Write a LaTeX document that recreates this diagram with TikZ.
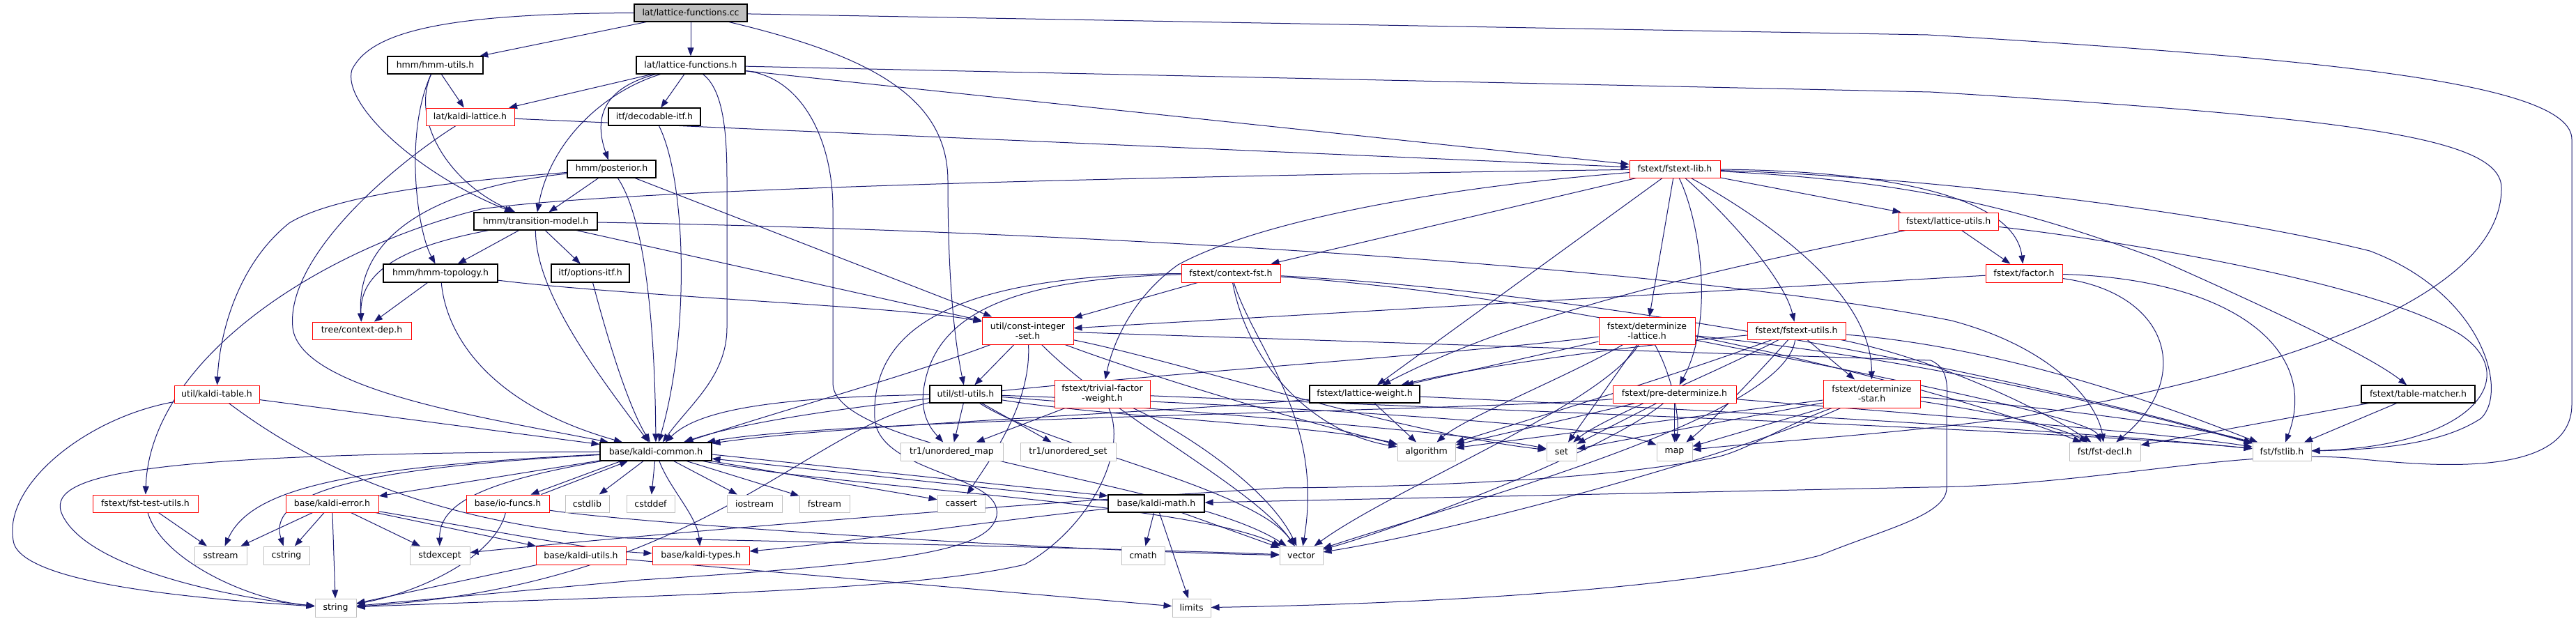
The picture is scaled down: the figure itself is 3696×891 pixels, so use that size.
\documentclass[tikz,border=0pt]{standalone}
\usepackage{fontspec}
\setmainfont{DejaVu Sans}
\usetikzlibrary{arrows.meta,backgrounds}
\definecolor{edgec}{HTML}{191970}
\definecolor{sysgray}{HTML}{BFBFBF}
\begin{document}
\begin{tikzpicture}[x=1pt,y=-1pt,
  nd/.style={draw=black, fill=white, line width=1.1pt, inner sep=0pt, align=center, font=\fontsize{12.5}{14}\selectfont, text=black},
  nr/.style={nd, draw=red, line width=1pt},
  ng/.style={nd, draw=sysgray, line width=1pt},
  e/.style={draw=edgec, line width=1pt, -{Triangle[length=12pt,width=9pt]}},
]
\useasboundingbox (0,0) rectangle (3696,891);
% ---------------- nodes ----------------
\node[nd,fill=sysgray,minimum width=162pt,minimum height=25pt] (lfc) at (991,18.5) {lat/lattice-functions.cc};
\node[nd,minimum width=137pt,minimum height=25pt] (hmmu) at (624.5,93.5) {hmm/hmm-utils.h};
\node[nd,minimum width=156pt,minimum height=25pt] (lfh) at (991,93.5) {lat/lattice-functions.h};
\node[nr,minimum width=127pt,minimum height=25pt] (klat) at (674.5,167.5) {lat/kaldi-lattice.h};
\node[nd,minimum width=132pt,minimum height=25pt] (dec) at (939,167.5) {itf/decodable-itf.h};
\node[nd,minimum width=127pt,minimum height=25pt] (post) at (877.5,242.5) {hmm/posterior.h};
\node[nr,minimum width=130pt,minimum height=25pt] (fstl) at (2403,242.5) {fstext/fstext-lib.h};
\node[nd,minimum width=177pt,minimum height=25pt] (tm) at (768.5,317.5) {hmm/transition-model.h};
\node[nr,minimum width=143pt,minimum height=25pt] (lu) at (2795.5,317.5) {fstext/lattice-utils.h};
\node[nd,minimum width=164pt,minimum height=26pt] (topo) at (632,392) {hmm/hmm-topology.h};
\node[nd,minimum width=112pt,minimum height=26pt] (opt) at (847,392) {itf/options-itf.h};
\node[nr,minimum width=142pt,minimum height=26pt] (cfst) at (1766,392) {fstext/context-fst.h};
\node[nr,minimum width=110pt,minimum height=26pt] (fac) at (2904,392) {fstext/factor.h};
\node[nr,minimum width=131pt,minimum height=39pt] (cis) at (1474.5,474.5) {util/const-integer\\-set.h};
\node[nr,minimum width=138pt,minimum height=39pt] (dl) at (2363,474.5) {fstext/determinize\\-lattice.h};
\node[nr,minimum width=142pt,minimum height=25pt] (cdep) at (519,474.5) {tree/context-dep.h};
\node[nr,minimum width=141pt,minimum height=25pt] (fu) at (2577.5,474.5) {fstext/fstext-utils.h};
\node[nr,minimum width=122pt,minimum height=25pt] (ktab) at (311,565.5) {util/kaldi-table.h};
\node[nd,minimum width=103pt,minimum height=25pt] (stl) at (1385.5,565.5) {util/stl-utils.h};
\node[nr,minimum width=137pt,minimum height=40pt] (tfw) at (1581.5,565) {fstext/trivial-factor\\-weight.h};
\node[nd,minimum width=158pt,minimum height=25pt] (lw) at (1958,565.5) {fstext/lattice-weight.h};
\node[nr,minimum width=177pt,minimum height=25pt] (pd) at (2402.5,565.5) {fstext/pre-determinize.h};
\node[nr,minimum width=139pt,minimum height=40pt] (ds) at (2685.5,565) {fstext/determinize\\-star.h};
\node[nd,minimum width=163pt,minimum height=25pt] (tmat) at (3469.5,565.5) {fstext/table-matcher.h};
\node[nd,minimum width=160pt,minimum height=26pt] (kc) at (941,648) {base/kaldi-common.h};
\node[ng,minimum width=147pt,minimum height=26pt] (umap) at (1365.5,648) {tr1/unordered\_map};
\node[ng,minimum width=137pt,minimum height=26pt] (uset) at (1532.5,648) {tr1/unordered\_set};
\node[ng,minimum width=83pt,minimum height=26pt] (alg) at (2046.5,648) {algorithm};
\node[ng,minimum width=43pt,minimum height=26pt] (set) at (2240.5,648) {set};
\node[ng,minimum width=51pt,minimum height=26pt] (map) at (2402.5,648) {map};
\node[ng,minimum width=102pt,minimum height=26pt] (fdecl) at (3020,648) {fst/fst-decl.h};
\node[ng,minimum width=84pt,minimum height=26pt] (fstlib) at (3274,648) {fst/fstlib.h};
\node[nr,minimum width=151pt,minimum height=25pt] (ftu) at (208.5,722.5) {fstext/fst-test-utils.h};
\node[nr,minimum width=133pt,minimum height=25pt] (kerr) at (476.5,722.5) {base/kaldi-error.h};
\node[nr,minimum width=119pt,minimum height=25pt] (iof) at (728.5,722.5) {base/io-funcs.h};
\node[ng,minimum width=63pt,minimum height=25pt] (cstdlib) at (842.5,722.5) {cstdlib};
\node[ng,minimum width=69pt,minimum height=25pt] (cstddef) at (933.5,722.5) {cstddef};
\node[ng,minimum width=79pt,minimum height=25pt] (iostream) at (1082.5,722.5) {iostream};
\node[ng,minimum width=72pt,minimum height=25pt] (fstream) at (1183,722.5) {fstream};
\node[ng,minimum width=68pt,minimum height=25pt] (cassert) at (1379,722.5) {cassert};
\node[nd,minimum width=138pt,minimum height=25pt] (kmath) at (1659,722.5) {base/kaldi-math.h};
\node[ng,minimum width=75pt,minimum height=26pt] (sstream) at (316.5,797) {sstream};
\node[ng,minimum width=66pt,minimum height=26pt] (cstring) at (411,797) {cstring};
\node[ng,minimum width=86pt,minimum height=26pt] (stdexcept) at (631,797) {stdexcept};
\node[nr,minimum width=129pt,minimum height=26pt] (kutil) at (833.5,797) {base/kaldi-utils.h};
\node[nr,minimum width=139pt,minimum height=26pt] (ktypes) at (1005.5,797) {base/kaldi-types.h};
\node[ng,minimum width=62pt,minimum height=26pt] (cmath) at (1640,797) {cmath};
\node[ng,minimum width=62pt,minimum height=26pt] (vector) at (1867,797) {vector};
\node[ng,minimum width=59pt,minimum height=26pt] (string) at (481.5,872) {string};
\node[ng,minimum width=55pt,minimum height=26pt] (limits) at (1709.5,872) {limits};
% ---------------- edges ----------------
\begin{scope}[on background layer]
% lat/lattice-functions.cc
\draw[e] (lfc) -- (hmmu);
\draw[e] (lfc) -- (lfh);
\draw[e] (lfc) .. controls (620,19) and (530,50) .. (505,100) .. controls (490,150) and (600,250) .. (tm);
\draw[e] (lfc) .. controls (1250,80) and (1360,140) .. (1360,260) .. controls (1360,420) and (1372,500) .. (stl);
\draw[e] (lfc) -- (2766,50) .. controls (3350,85) and (3690,120) .. (3690,200) -- (3690,580) .. controls (3690,690) and (3480,668) .. (3370,657) .. controls (3200,645) and (3000,697) .. (2766,699) -- (kmath);
% hmm-utils
\draw[e] (hmmu) -- (klat);
\draw[e] (hmmu) .. controls (590,170) and (640,260) .. (tm);
\draw[e] (hmmu) .. controls (580,190) and (598,330) .. (topo);
% lattice-functions.h
\draw[e] (lfh) -- (klat);
\draw[e] (lfh) -- (dec);
\draw[e] (lfh) .. controls (870,125) and (850,165) .. (post);
\draw[e] (lfh) .. controls (870,130) and (790,200) .. (tm);
\draw[e] (lfh) .. controls (1040,130) and (1043,200) .. (1043,260) -- (1043,470) .. controls (1043,540) and (990,580) .. (kc);
\draw[e] (lfh) -- (fstl);
\draw[e] (lfh) -- (2770,132) .. controls (3400,170) and (3589,200) .. (3589,270) .. controls (3589,420) and (3300,530) .. (2900,598) .. controls (2700,625) and (2550,632) .. (map);
\draw[e] (lfh) .. controls (1150,110) and (1195,200) .. (1195,300) -- (1195,550) .. controls (1195,650) and (1700,690) .. (vector);
% kaldi-lattice
\draw[e] (klat) -- (fstl);
\draw[e] (klat) .. controls (560,240) and (410,370) .. (420,470) .. controls (430,560) and (700,600) .. (kc);
% decodable
\draw[e] (dec) .. controls (985,260) and (990,480) .. (kc);
% posterior
\draw[e] (post) -- (tm);
\draw[e] (post) .. controls (650,260) and (480,280) .. (415,320) .. controls (340,380) and (315,480) .. (ktab);
\draw[e] (post) .. controls (660,265) and (510,320) .. (cdep);
\draw[e] (post) .. controls (930,320) and (940,500) .. (kc);
\draw[e] (post) -- (cis);
% transition-model
\draw[e] (tm) -- (topo);
\draw[e] (tm) -- (opt);
\draw[e] (tm) .. controls (600,350) and (515,380) .. (cdep);
\draw[e] (tm) .. controls (768,420) and (860,540) .. (kc);
\draw[e] (tm) -- (cis);
\draw[e] (tm) .. controls (1500,330) and (2400,380) .. (2800,460) .. controls (2950,500) and (3010,580) .. (fdecl);
% hmm-topology
\draw[e] (topo) -- (cdep);
\draw[e] (topo) .. controls (640,480) and (700,580) .. (kc);
\draw[e] (topo) .. controls (900,425) and (1300,440) .. (cis);
% options-itf
\draw[e] (opt) .. controls (870,480) and (900,580) .. (kc);
% kaldi-table
\draw[e] (ktab) -- (kc);
\draw[e] (ktab) .. controls (120,600) and (0,700) .. (20,780) .. controls (40,840) and (300,860) .. (string);
\draw[e] (ktab) .. controls (450,670) and (620,750) .. (900,772) .. controls (1300,780) and (1700,790) .. (vector);
% fstext-lib
\draw[e] (fstl) .. controls (1700,252) and (900,270) .. (690,300) .. controls (450,360) and (215,520) .. (ftu);
\draw[e] (fstl) -- (cfst);
\draw[e] (fstl) .. controls (2050,270) and (1800,320) .. (1690,380) .. controls (1620,430) and (1595,500) .. (tfw);
\draw[e] (fstl) -- (lw);
\draw[e] (fstl) -- (dl);
\draw[e] (fstl) .. controls (2440,320) and (2460,460) .. (pd);
\draw[e] (fstl) .. controls (2480,310) and (2560,400) .. (fu);
\draw[e] (fstl) .. controls (2560,330) and (2685,430) .. (ds);
\draw[e] (fstl) -- (lu);
\draw[e] (fstl) .. controls (2700,245) and (2890,280) .. (fac);
\draw[e] (fstl) .. controls (2750,260) and (2900,300) .. (3092,370) .. controls (3250,440) and (3400,510) .. (tmat);
\draw[e] (fstl) .. controls (2800,255) and (3200,310) .. (3400,360) .. controls (3560,420) and (3600,560) .. (3560,600) .. controls (3500,640) and (3400,645) .. (fstlib);
% lattice-utils
\draw[e] (lu) -- (fac);
\draw[e] (lu) .. controls (2500,380) and (2200,440) .. (lw);
\draw[e] (lu) .. controls (3000,340) and (3400,400) .. (3530,480) .. controls (3620,540) and (3550,640) .. (fstlib);
% factor
\draw[e] (fac) -- (cis);
\draw[e] (fac) .. controls (3110,420) and (3150,540) .. (fdecl);
\draw[e] (fac) .. controls (3200,400) and (3330,500) .. (fstlib);
% table-matcher
\draw[e] (tmat) -- (fdecl);
\draw[e] (tmat) -- (fstlib);
% context-fst
\draw[e] (cfst) -- (cis);
\draw[e] (cfst) .. controls (1450,400) and (1340,450) .. (1325,560) .. controls (1320,600) and (1340,620) .. (umap);
\draw[e] (cfst) .. controls (1350,395) and (1250,480) .. (1255,600) .. controls (1260,680) and (1440,680) .. (1430,740) .. controls (1420,790) and (1300,808) .. (920,832) -- (string);
\draw[e] (cfst) .. controls (1790,520) and (1880,620) .. (alg);
\draw[e] (cfst) .. controls (1800,500) and (1900,600) .. (vector);
\draw[e] (cfst) .. controls (2300,420) and (2900,540) .. (fstlib);
\draw[e] (cfst) .. controls (2300,430) and (2800,560) .. (fdecl);
% const-integer-set
\draw[e] (cis) -- (stl);
\draw[e] (cis) .. controls (1300,540) and (1150,580) .. (kc);
\draw[e] (cis) .. controls (1480,580) and (1420,660) .. (cassert);
\draw[e] (cis) .. controls (1650,540) and (1850,600) .. (alg);
\draw[e] (cis) .. controls (1700,520) and (2000,620) .. (set);
\draw[e] (cis) .. controls (1600,600) and (1800,700) .. (vector);
\draw[e] (cis) -- (2770,517) .. controls (2800,530) and (2793,560) .. (2793,600) -- (2793,700) .. controls (2793,740) and (2700,760) .. (2611,797) .. controls (2400,850) and (2000,867) .. (limits);
% stl-utils
\draw[e] (stl) .. controls (1100,570) and (1000,590) .. (kc);
\draw[e] (stl) -- (umap);
\draw[e] (stl) -- (uset);
\draw[e] (stl) .. controls (1600,600) and (1900,610) .. (alg);
\draw[e] (stl) .. controls (1700,590) and (2100,620) .. (set);
\draw[e] (stl) .. controls (1800,580) and (2300,610) .. (map);
\draw[e] (stl) .. controls (1500,640) and (1800,700) .. (vector);
\draw[e] (stl) .. controls (1150,620) and (1000,840) .. (string);
% trivial-factor-weight
\draw[e] (tfw) -- (umap);
\draw[e] (tfw) .. controls (1620,650) and (1560,760) .. (1470,810) .. controls (1300,850) and (900,855) .. (string);
\draw[e] (tfw) .. controls (1700,620) and (1820,700) .. (vector);
\draw[e] (tfw) .. controls (2200,590) and (3000,620) .. (fstlib);
% lattice-weight
\draw[e] (lw) -- (alg);
\draw[e] (lw) .. controls (1700,590) and (1200,610) .. (kc);
\draw[e] (lw) .. controls (2500,590) and (3000,620) .. (fstlib);
% determinize-lattice
\draw[e] (dl) -- (lw);
\draw[e] (dl) .. controls (2000,520) and (1200,560) .. (kc);
\draw[e] (dl) .. controls (2250,540) and (2100,600) .. (alg);
\draw[e] (dl) -- (set);
\draw[e] (dl) .. controls (2400,540) and (2410,600) .. (map);
\draw[e] (dl) .. controls (2300,580) and (2000,700) .. (vector);
\draw[e] (dl) .. controls (2700,540) and (3000,600) .. (fdecl);
\draw[e] (dl) .. controls (2800,520) and (3100,600) .. (fstlib);
% fstext-utils
\draw[e] (fu) .. controls (2300,500) and (2100,530) .. (lw);
\draw[e] (fu) -- (ds);
\draw[e] (fu) .. controls (2400,540) and (2200,600) .. (alg);
\draw[e] (fu) .. controls (2450,540) and (2300,600) .. (set);
\draw[e] (fu) .. controls (2500,560) and (2450,610) .. (map);
\draw[e] (fu) .. controls (2560,600) and (2100,720) .. (vector);
\draw[e] (fu) .. controls (2800,520) and (2950,600) .. (fdecl);
\draw[e] (fu) .. controls (2900,500) and (3150,600) .. (fstlib);
% pre-determinize
\draw[e] (pd) .. controls (2100,590) and (1200,600) .. (kc);
\draw[e] (pd) -- (alg);
\draw[e] (pd) -- (set);
\draw[e] (pd) -- (map);
\draw[e] (pd) .. controls (2300,650) and (2000,760) .. (vector);
\draw[e] (pd) .. controls (2700,590) and (3100,620) .. (fstlib);
% determinize-star
\draw[e] (ds) -- (alg);
\draw[e] (ds) -- (set);
\draw[e] (ds) -- (map);
\draw[e] (ds) .. controls (2500,650) and (2100,760) .. (vector);
\draw[e] (ds) .. controls (2850,590) and (2950,610) .. (fdecl);
\draw[e] (ds) .. controls (2900,580) and (3150,610) .. (fstlib);
\draw[e] (ds) .. controls (2560,610) and (2500,650) .. (2457,657) .. controls (2300,690) and (2000,699) .. (1840,700) .. controls (1500,720) and (1000,760) .. (stdexcept);
% kaldi-common
\draw[e] (kc) -- (kerr);
\draw[e] ([xshift=-50pt]kc.south) -- ([xshift=33pt]iof.north);
\draw[e] ([xshift=48pt]iof.north) -- ([xshift=-40pt]kc.south);
\draw[e] (kc) -- (cstdlib);
\draw[e] (kc) -- (cstddef);
\draw[e] (kc) -- (iostream);
\draw[e] (kc) -- (fstream);
\draw[e] (kc) -- (cassert);
\draw[e] ([yshift=-4pt]kc.east) -- ([yshift=-2pt]kmath.north west);
\draw[e] ([yshift=4pt]kmath.west) -- ([yshift=-10pt]kc.east);
\draw[e] (kc) .. controls (960,700) and (1000,740) .. (ktypes);
\draw[e] (kc) .. controls (200,650) and (60,680) .. (90,740) .. controls (130,820) and (350,860) .. (string);
\draw[e] (kc) .. controls (500,670) and (360,700) .. (sstream);
\draw[e] (kc) .. controls (550,670) and (380,700) .. (cstring);
\draw[e] (kc) .. controls (700,690) and (630,720) .. (stdexcept);
\draw[e] (kc) .. controls (1200,700) and (1700,720) .. (vector);
% io-funcs
\draw[e] (iof) .. controls (710,800) and (600,850) .. (string);
\draw[e] (iof) .. controls (900,750) and (1500,790) .. (vector);
% kaldi-error
\draw[e] (kerr) -- (sstream);
\draw[e] (kerr) -- (cstring);
\draw[e] (kerr) -- (string);
\draw[e] (kerr) -- (stdexcept);
\draw[e] (kerr) -- (kutil);
\draw[e] (kerr) .. controls (700,760) and (850,790) .. (ktypes);
% fst-test-utils
\draw[e] (ftu) -- (sstream);
\draw[e] (ftu) .. controls (230,800) and (350,860) .. (string);
% kaldi-utils
\draw[e] (kutil) -- (string);
\draw[e] (kutil) -- (limits);
% kaldi-math
\draw[e] (kmath) -- (cmath);
\draw[e] (kmath) -- (limits);
\draw[e] (kmath) -- (vector);
\draw[e] (kmath) .. controls (1400,750) and (1200,780) .. (ktypes);
\end{scope}
\end{tikzpicture}
\end{document}
